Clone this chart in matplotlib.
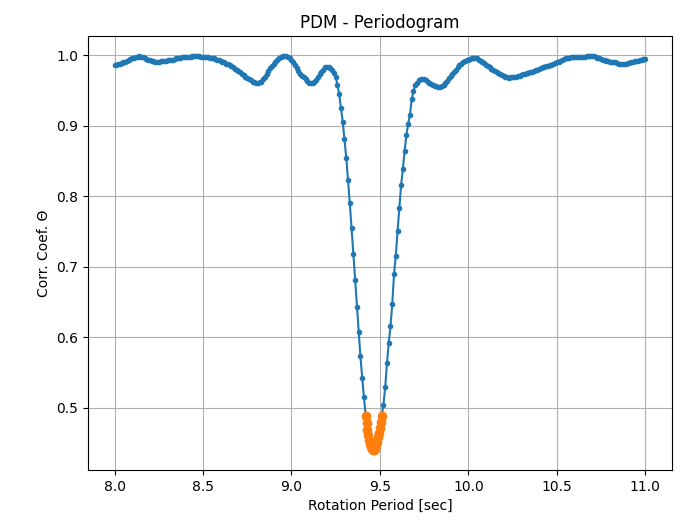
import numpy as np
import matplotlib
matplotlib.use("Agg")
import matplotlib.pyplot as plt

# trial rotation periods [sec], 0.01 s step from 8.00 to 11.00
periods = np.round(np.arange(800, 1101) / 100.0, 2)

# PDM theta statistic (one row per 0.1 s)
theta = [
    0.9866, 0.987, 0.9875, 0.988, 0.989, 0.990, 0.991, 0.992, 0.9935, 0.995,      # 8.0
    0.996, 0.997, 0.998, 0.9985, 0.999, 0.9985, 0.998, 0.997, 0.9955, 0.994,      # 8.1
    0.993, 0.992, 0.9915, 0.991, 0.991, 0.9912, 0.9915, 0.992, 0.992, 0.9925,     # 8.2
    0.993, 0.993, 0.9935, 0.994, 0.995, 0.996, 0.9965, 0.997, 0.9972, 0.9975,     # 8.3
    0.998, 0.998, 0.998, 0.9985, 0.999, 0.999, 0.999, 0.999, 0.999, 0.9985,       # 8.4
    0.998, 0.998, 0.998, 0.9975, 0.997, 0.9965, 0.996, 0.995, 0.994, 0.993,       # 8.5
    0.992, 0.991, 0.990, 0.9885, 0.9875, 0.9866, 0.985, 0.983, 0.981, 0.9795,     # 8.6
    0.978, 0.976, 0.974, 0.972, 0.970, 0.9686, 0.967, 0.965, 0.963, 0.962,        # 8.7
    0.9615, 0.9612, 0.962, 0.963, 0.966, 0.970, 0.974, 0.978, 0.982, 0.985,       # 8.8
    0.988, 0.991, 0.994, 0.996, 0.998, 0.999, 0.9993, 0.999, 0.998, 0.996,       # 8.9
    0.993, 0.990, 0.986, 0.982, 0.978, 0.974, 0.971, 0.969, 0.966, 0.964,        # 9.0
    0.9615, 0.9607, 0.961, 0.962, 0.965, 0.969, 0.973, 0.977, 0.980, 0.983,      # 9.1
    0.9835, 0.983, 0.982, 0.979, 0.975, 0.970, 0.958, 0.945, 0.926, 0.906,       # 9.2
    0.881, 0.855, 0.823, 0.790, 0.755, 0.719, 0.682, 0.643, 0.608, 0.573,        # 9.3
    0.543, 0.515, 0.489, 0.469, 0.454, 0.444, 0.440, 0.441, 0.447, 0.458,        # 9.4
    0.472, 0.488, 0.504, 0.529, 0.563, 0.592, 0.616, 0.647, 0.690, 0.716,        # 9.5
    0.751, 0.783, 0.816, 0.839, 0.865, 0.887, 0.903, 0.916, 0.938, 0.950,        # 9.6
    0.958, 0.961, 0.965, 0.966, 0.9665, 0.9665, 0.965, 0.963, 0.961, 0.959,      # 9.7
    0.958, 0.957, 0.956, 0.9555, 0.9555, 0.956, 0.958, 0.961, 0.964, 0.968,      # 9.8
    0.971, 0.973, 0.977, 0.980, 0.983, 0.986, 0.988, 0.990, 0.992, 0.993,        # 9.9
    0.994, 0.995, 0.996, 0.997, 0.997, 0.996, 0.994, 0.992, 0.991, 0.989,        # 10.0
    0.987, 0.985, 0.983, 0.981, 0.980, 0.978, 0.976, 0.975, 0.973, 0.972,        # 10.1
    0.971, 0.970, 0.969, 0.9686, 0.9688, 0.969, 0.9695, 0.970, 0.9705, 0.971,    # 10.2
    0.972, 0.973, 0.974, 0.975, 0.9755, 0.976, 0.977, 0.978, 0.979, 0.980,       # 10.3
    0.981, 0.982, 0.983, 0.984, 0.985, 0.9855, 0.986, 0.987, 0.988, 0.989,       # 10.4
    0.990, 0.991, 0.9925, 0.994, 0.995, 0.996, 0.9965, 0.997, 0.9972, 0.9975,    # 10.5
    0.9978, 0.998, 0.998, 0.998, 0.998, 0.998, 0.9985, 0.999, 0.999, 0.999,      # 10.6
    0.9993, 0.999, 0.998, 0.997, 0.996, 0.995, 0.994, 0.993, 0.992, 0.9915,      # 10.7
    0.991, 0.9908, 0.9905, 0.990, 0.989, 0.9885, 0.988, 0.988, 0.988, 0.9885,    # 10.8
    0.989, 0.9895, 0.990, 0.991, 0.9915, 0.992, 0.9925, 0.993, 0.994, 0.9945,    # 10.9
    0.995,                                                                        # 11.0
]

# finer search around the minimum (highlighted in orange)
fine_periods = [
    9.420, 9.425, 9.430, 9.435, 9.440, 9.445, 9.450, 9.455, 9.460, 9.465,
    9.470, 9.475, 9.480, 9.485, 9.490, 9.495, 9.500, 9.505, 9.510,
]
fine_theta = [
    0.489, 0.479, 0.469, 0.461, 0.454, 0.449, 0.444, 0.4415, 0.440, 0.440,
    0.441, 0.4435, 0.447, 0.452, 0.458, 0.465, 0.472, 0.480, 0.488,
]

fig = plt.figure(figsize=(6.82, 5.25), dpi=100)
ax = fig.add_axes([0.129, 0.105, 0.856, 0.826])

ax.plot(periods, theta, ".-")
ax.plot(fine_periods, fine_theta, "o")

ax.set_title("PDM - Periodogram")
ax.set_xlabel("Rotation Period [sec]")
ax.set_ylabel("Corr. Coef. Θ")
ax.set_yticks([0.5, 0.6, 0.7, 0.8, 0.9, 1.0])
ax.grid()

fig.savefig("out.png", dpi=100)
